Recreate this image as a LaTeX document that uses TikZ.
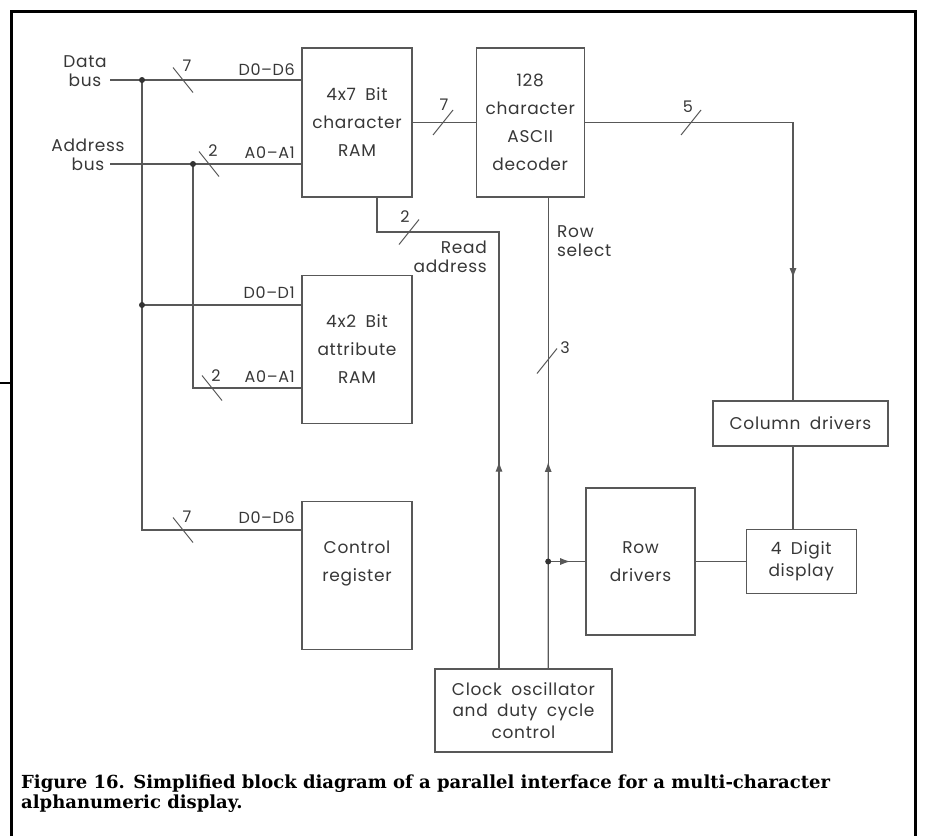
\documentclass[tikz,border=0pt]{standalone}
\usepackage{fontspec}
\newfontfamily\cadfont[WordSpace=1.8,LetterSpace=4]{Poppins}
\newfontfamily\capfont{DejaVu Serif}
\usetikzlibrary{arrows.meta,positioning,calc}
\usepackage{xcolor}
\definecolor{linegray}{RGB}{88,88,88}
\definecolor{textgray}{RGB}{55,55,55}
\newcommand{\blockbox}[4]{%
  \node[draw=linegray, line width=1.2pt, minimum width=#2, minimum height=#3,
        align=center, inner sep=0pt, text=textgray,
        font=\cadfont\fontsize{17}{28}\selectfont, #4] (#1) }

\begin{document}
\begin{tikzpicture}[x=1pt, y=-1pt,
  wire/.style={draw=linegray, line width=1.1pt},
  busmark/.style={draw=linegray, line width=1pt},
  buslbl/.style={text=textgray, font=\cadfont\fontsize{16}{18}\selectfont, inner sep=1pt},
  sig/.style={text=textgray, font=\cadfont\fontsize{17}{19}\selectfont, inner sep=0pt},
  frame/.style={draw=black, line width=3pt},
  dot/.style={circle, fill=black!80, inner sep=0pt, minimum size=6pt},
  arrowed/.style={wire, -{Latex[length=10pt,width=7pt]}},
  busback/.pic={\draw[busmark] (-10,-12.5) -- (10,12.5);},
  busfwd/.pic={\draw[busmark] (-10,12.5) -- (10,-12.5);}]

\useasboundingbox (0,0) rectangle (931,836);
\draw[frame] (11,836) -- (11,11) -- (915,11) -- (915,836);
\draw[draw=black, line width=2pt] (0,383) -- (11,383);

\blockbox{RamChar}{110pt}{149pt}{at={(357,122.5)}}
  {4x7 Bit\\character\\RAM};
\blockbox{RamAttr}{110pt}{148pt}{below=77pt of RamChar}
  {4x2 Bit\\attribute\\RAM};
\blockbox{CtrlReg}{110pt}{148pt}{below=77pt of RamAttr}
  {Control\\register\\\mbox{}};
\blockbox{Decoder}{108pt}{149pt}{right=63pt of RamChar}
  {128\\character\\ASCII\\decoder};
\blockbox{ColDrv}{175pt}{45pt}{at={(800.5,423.5)}}
  {Column drivers};
\blockbox{RowDrv}{109pt}{147pt}{at={(640.5,561.5)}}
  {Row\\drivers};
\blockbox{Display}{110pt}{64pt}{right=50pt of RowDrv,
  font=\cadfont\fontsize{17}{22}\selectfont}
  {4 Digit\\display};
\blockbox{ClockOsc}{177pt}{83pt}{at={(523.5,710.5)},
  font=\cadfont\fontsize{17}{21.5}\selectfont}
  {Clock oscillator\\and duty cycle\\control};

\node[sig, align=center] (DataLbl) at (85,71) {Data\\bus};
\node[sig, align=center] (AddrLbl) at (88,155) {Address\\bus};

\coordinate (DataIn) at (110,80);
\coordinate (AddrIn) at (110,164);
\coordinate (DataTap) at (142,80);
\coordinate (AddrTap) at (193,164);
\coordinate (AttrD) at (RamAttr.west |- 0,305);
\coordinate (AttrA) at (RamAttr.west |- 0,388);
\coordinate (CtrlIn) at (CtrlReg.west |- 0,530);

\draw[wire] (DataIn) -- (DataIn -| RamChar.west);
\draw[wire] (AddrIn) -- (AddrIn -| RamChar.west);
\draw[wire] (DataTap) -- (DataTap |- CtrlIn) -- (CtrlIn);
\draw[wire] (DataTap |- AttrD) -- (AttrD);
\draw[wire] (AddrTap) -- (AddrTap |- AttrA) -- (AttrA);
\node[dot] (DotData) at (DataTap) {};
\node[dot] (DotAddr) at (AddrTap) {};
\node[dot] (DotAttr) at (DataTap |- AttrD) {};

\node[buslbl, anchor=east] (LblD6) at (296,70) {D0–D6};
\node[buslbl, anchor=east] (LblA1) at (296,153) {A0–A1};
\node[buslbl, anchor=east] (LblD1) at (296,293) {D0–D1};
\node[buslbl, anchor=east] (LblA1b) at (296,377) {A0–A1};
\node[buslbl, anchor=east] (LblD6b) at (296,518) {D0–D6};

\draw[wire] (RamChar) -- (Decoder);

\coordinate (ColTurn) at (793,122.5);
\coordinate (ColIn) at (ColTurn |- ColDrv.north);
\draw[wire] (Decoder.east) -- (ColTurn) -- (ColIn);
\draw[arrowed] (ColTurn) -- ($(ColTurn)!0.56!(ColIn)$);
\draw[wire] (ColIn |- ColDrv.south) -- (ColIn |- Display.north);
\draw[wire] (RowDrv) -- (Display);

\coordinate (RdOut) at ($(RamChar.south)+(20,0)$);
\coordinate (RdTurn) at (RdOut |- 0,232);
\coordinate (RdDown) at (499,232);
\coordinate (RdClk) at (RdDown |- ClockOsc.north);
\draw[wire] (RdOut) -- (RdTurn) -- (RdDown) -- (RdClk);
\draw[arrowed] (RdClk) -- ($(RdClk)!0.474!(RdDown)$);
\node[sig, align=right, anchor=north east] (RdLbl) at (487,241) {Read\\address};

\coordinate (RsOut) at ($(Decoder.south)+(18,0)$);
\coordinate (RsClk) at (RsOut |- ClockOsc.north);
\coordinate (RsTap) at (RsOut |- RowDrv.west);
\draw[wire] (RsOut) -- (RsClk);
\draw[arrowed] (RsClk) -- ($(RsClk)!0.4386!(RsOut)$);
\draw[wire] (RsTap) -- (RowDrv.west);
\draw[arrowed] (RsTap) -- ($(RsTap)+(22,0)$);
\node[dot] (DotRow) at (RsTap) {};
\node[sig, align=left, anchor=north west] (RsLbl) at (557,225) {Row\\select};

\pic at (183,80) {busback};
\pic at (209,164) {busback};
\pic at (212,388) {busback};
\pic at (183,530) {busback};
\pic at (443,122.5) {busfwd};
\pic at (691,122.5) {busfwd};
\pic at (409,232) {busfwd};
\pic at (547,361) {busfwd};
\node[buslbl] (W7a) at (187,66) {7};
\node[buslbl] (W2a) at (213,151) {2};
\node[buslbl] (W2b) at (216,376) {2};
\node[buslbl] (W7b) at (187,517) {7};
\node[buslbl] (W7c) at (444,105) {7};
\node[buslbl] (W5) at (688,107) {5};
\node[buslbl] (W2c) at (405,217) {2};
\node[buslbl] (W3) at (565,348) {3};

\node[anchor=north west, align=left, inner sep=0pt,
      font=\capfont\bfseries\fontsize{18}{20}\selectfont] (Caption) at (21,775)
  {Figure 16. Simplified block diagram of a parallel interface for a multi-character\\alphanumeric display.};

\end{tikzpicture}
\end{document}
